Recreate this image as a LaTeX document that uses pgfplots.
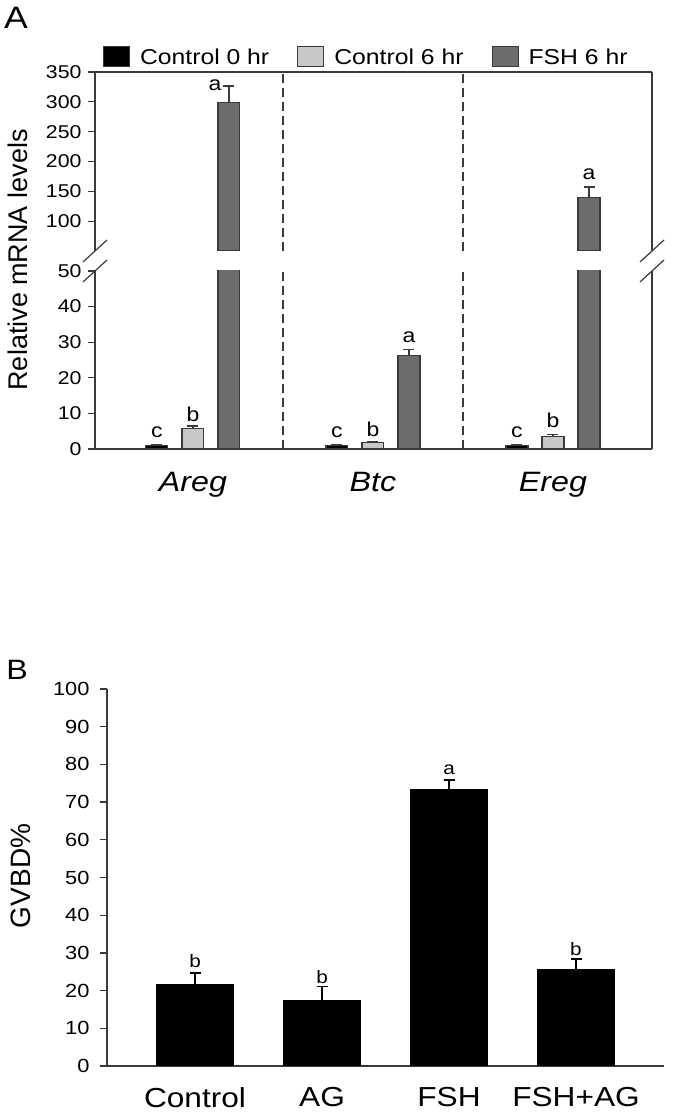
\documentclass[border=0pt]{standalone}
\usepackage{fontspec}
\setmainfont{Liberation Sans}[FakeStretch=1.15]
\newfontfamily\plainsans{Liberation Sans}
\usepackage{pgfplots}
\pgfplotsset{compat=1.18}
\usepackage{pgfplotstable}

\definecolor{framec}{HTML}{3A3A3A}
\definecolor{darkbar}{HTML}{6C6C6C}
\definecolor{lightbar}{HTML}{C8C8C8}
\newcommand{\fs}[1]{\fontsize{#1}{#1}\selectfont}

% Panel A data (x position, mean, upper error)
\pgfplotstableread{
x y err
-0.2 1.0 0.3
0.8 1.0 0.3
1.8 1.0 0.3
}\ctrlzero
\pgfplotstableread{
x y err
0 5.7 0.8
1 1.8 0.15
2 3.45 0.7
}\ctrlsix
\pgfplotstableread{
x y err
0.2 298.6 28
1.2 26.2 1.8
2.2 139.4 17.6
}\fshsix
% significance letters (x, baseline height, letter)
\pgfplotstableread{
x y lab
-0.2 3.1 c
0 7.6 b
0.8 3.1 c
1 3.4 b
1.2 29.8 a
1.8 3.1 c
2 5.9 b
}\lettersAlow
\pgfplotstableread{
x y lab
0.122 319.8 a
2.2 169 a
}\lettersAup
% Panel B data
\pgfplotstableread{
x y err
0 21.5 3.2
1 17.5 3.5
2 73.4 2.5
3 25.7 2.7
}\gvbd
\pgfplotstableread{
x y lab
0 26.0 b
1 22.0 b
2 77.2 a
3 29.4 b
}\lettersB

\pgfplotsset{
  errA/.style={error bars/y dir=plus, error bars/y explicit,
    error bars/error bar style={line width=1.3pt, color=framec},
    error bars/error mark options={rotate=90, line width=1.3pt, mark size=5.5pt, color=framec}},
  barA/.style={ybar, bar shift=0pt, bar width=0.122, draw=framec, line width=1.1pt, forget plot},
  common/.style={scale only axis, tick align=outside, major tick length=7pt,
    tick style={color=framec, line width=1.3pt},
    axis line style={-, color=framec, line width=1.4pt},
    /pgf/number format/assume math mode=true,
    yticklabel style={font=\fs{18.5}, xshift=-3pt},
    major x tick style={draw=none}},
  lettersA/.style={draw=none, mark=none, forget plot, nodes near coords, point meta=explicit symbolic,
    every node near coord/.style={anchor=base, inner sep=0pt, font=\fs{20}, text=black}},
}

\begin{document}
\begin{tikzpicture}
\useasboundingbox (0pt,0pt) rectangle (672pt,1115pt);

% ---------------- Panel A, lower part (0-50)
\begin{axis}[common,
  at={(95pt,666pt)}, anchor=south west, width=557pt, height=178pt,
  xmin=-0.544, xmax=2.55, ymin=0, ymax=50,
  axis x line*=bottom, axis y line*=box, ytick pos=left,
  ytick={0,10,20,30,40,50},
  xtick={0,1,2}, xticklabels={Areg,Btc,Ereg},
  xticklabel style={font=\fs{28}\itshape, yshift=-13pt},
  every axis y label/.style={at={(axis description cs:-0.138,1.062)}, rotate=90, anchor=center, font=\plainsans\fs{27}},
  ylabel={Relative mRNA levels},
]
\addplot[forget plot, color=framec, line width=1.2pt, dash pattern=on 9pt off 5pt] coordinates {(0.5,0) (0.5,50)};
\addplot[forget plot, color=framec, line width=1.2pt, dash pattern=on 9pt off 5pt] coordinates {(1.5,0) (1.5,50)};
\addplot[barA, fill=black, errA] table[x=x, y=y, y error=err] {\ctrlzero};
\addplot[barA, fill=lightbar, errA] table[x=x, y=y, y error=err] {\ctrlsix};
\addplot[barA, fill=darkbar, errA] table[x=x, y=y, y error=err] {\fshsix};
\addplot[lettersA] table[x=x, y=y, meta=lab] {\lettersAlow};
\end{axis}

% ---------------- Panel A, upper part (50-350)
\begin{axis}[common,
  at={(95pt,864pt)}, anchor=south west, width=557pt, height=179pt,
  xmin=-0.544, xmax=2.55, ymin=50, ymax=350,
  axis x line*=top, axis y line*=box, ytick pos=left,
  ytick={100,150,200,250,300,350}, xtick=\empty,
  legend columns=3,
  legend style={at={(axis description cs:0.487,1)}, anchor=south, yshift=4pt,
    draw=none, fill=none, inner sep=0pt, font=\fs{21.5},
    /tikz/every odd column/.append style={column sep=8pt},
    /tikz/every even column/.append style={column sep=26pt}},
  legend image code/.code={\draw[#1] (0pt,-9pt) rectangle (26pt,11pt);},
]
\addlegendimage{fill=black, draw=framec, line width=1.1pt}
\addlegendentry{Control 0 hr}
\addlegendimage{fill=lightbar, draw=framec, line width=1.1pt}
\addlegendentry{Control 6 hr}
\addlegendimage{fill=darkbar, draw=framec, line width=1.1pt}
\addlegendentry{FSH 6 hr}
\addplot[forget plot, color=framec, line width=1.2pt, dash pattern=on 9pt off 5pt] coordinates {(0.5,50) (0.5,350)};
\addplot[forget plot, color=framec, line width=1.2pt, dash pattern=on 9pt off 5pt] coordinates {(1.5,50) (1.5,350)};
\addplot[barA, fill=darkbar, errA, restrict y to domain=50:1000] table[x=x, y=y, y error=err] {\fshsix};
\addplot[lettersA] table[x=x, y=y, meta=lab] {\lettersAup};
\end{axis}

% axis break marks
\foreach \xx in {95,652} {
  \draw[color=framec, line width=1.2pt] (\xx pt-12pt,853pt) -- (\xx pt+12pt,875pt);
  \draw[color=framec, line width=1.2pt] (\xx pt-12pt,833pt) -- (\xx pt+12pt,855pt);
}

\node[font=\fs{31}] at (16pt,1097pt) {A};
\node[font=\fs{28}] at (17pt,445pt) {B};

% ---------------- Panel B
\begin{axis}[common,
  at={(107pt,49pt)}, anchor=south west, width=557pt, height=377pt,
  xmin=-0.693, xmax=3.693, ymin=0, ymax=100,
  axis x line*=bottom, axis y line*=left, xtick pos=bottom, ytick pos=left,
  ytick={0,10,...,100},
  yticklabel style={font=\fs{19}, xshift=-4pt},
  xtick={0,1,2,3}, xticklabels={Control,AG,FSH,FSH+AG},
  xticklabel style={font=\fs{27.5}, yshift=-11pt},
  every axis y label/.style={at={(axis description cs:-0.154,0.504)}, rotate=90, anchor=center, font=\plainsans\fs{28}},
  ylabel={GVBD\%},
]
\addplot[ybar, bar shift=0pt, bar width=0.6, fill=black, draw=black, line width=1pt,
  error bars/y dir=plus, error bars/y explicit,
  error bars/error bar style={line width=1.3pt, color=black},
  error bars/error mark options={rotate=90, line width=1.3pt, mark size=5.5pt, color=black}]
  table[x=x, y=y, y error=err] {\gvbd};
\addplot[draw=none, mark=none, nodes near coords, point meta=explicit symbolic,
  every node near coord/.style={anchor=base, inner sep=0pt, font=\fs{18}, text=black}]
  table[x=x, y=y, meta=lab] {\lettersB};
\end{axis}
\end{tikzpicture}
\end{document}
